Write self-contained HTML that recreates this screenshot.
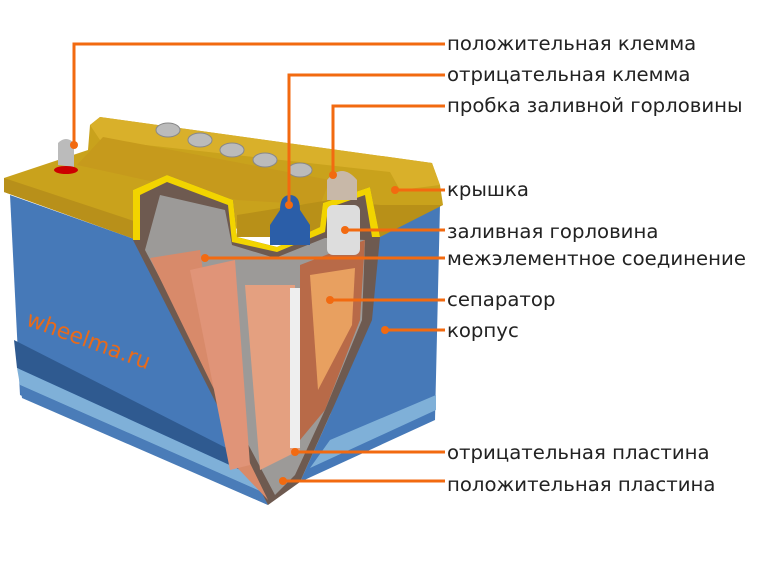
<!DOCTYPE html>
<html><head><meta charset="utf-8"><style>
html,body{margin:0;padding:0;background:#fff;width:768px;height:576px;overflow:hidden}
svg{display:block}
text{font-family:"DejaVu Sans","Liberation Sans",sans-serif;font-size:19.7px;fill:#222}
</style></head><body>
<svg width="768" height="576" viewBox="0 0 768 576">
<polygon points="10,195 137,240 268,505 20,395" fill="#4679b8"/>
<polygon points="14,340 250,460 258,478 17,368" fill="#2f5a90"/>
<polygon points="17,368 258,478 262,492 20,385" fill="#7fb0d8"/>
<polygon points="20,385 262,492 268,505 22,398" fill="#4a7cb8"/>
<polygon points="370,205 440,205 435,420 300,482 330,415 368,320" fill="#4679b8"/>
<polygon points="330,440 436,395 436,410 310,468" fill="#7fb0d8"/>
<polygon points="4,178 88,150 90,125 100,117 432,163 440,185 443,205 137,240 4,192" fill="#c9a21c"/>
<polygon points="90,125 100,117 432,163 440,185 400,190 390,172 100,140" fill="#d9b02a"/>
<polygon points="77,165 103,137 330,180 320,205 237,200" fill="#c69a1c"/>
<polygon points="4,178 137,222 137,240 4,192" fill="#b8901a"/>
<polygon points="237,215 330,200 380,205 443,205 380,237 237,237" fill="#b89018"/>
<polygon points="133,240 133,190 167,175 233,200 237,237 277,247 320,227 323,203 370,187 380,237 372,320 330,415 300,482 268,505" fill="#6e5a50"/>
<polygon points="133,190 167,175 233,200 237,237 277,247 320,227 323,203 370,187 380,237 372,237 365,195 328,208 325,232 277,252 232,242 228,205 167,182 140,195 140,240 133,240" fill="#f2d400"/>
<polygon points="145,250 160,195 225,210 232,245 275,258 325,238 365,240 362,320 325,410 295,475 275,495" fill="#9c9a98"/>
<polygon points="150,258 200,250 230,460 268,500" fill="#d88a6a"/>
<polygon points="190,270 235,260 250,465 230,470" fill="#e09478"/>
<polygon points="245,285 295,285 300,450 260,470" fill="#e4a080"/>
<polygon points="300,265 365,240 360,320 325,410 300,440" fill="#b86a48"/>
<polygon points="310,275 355,268 352,325 318,390" fill="#e8a060"/>
<rect x="290" y="288" width="10" height="160" fill="#eee"/>
<path d="M290,195 q10,0 10,15 l10,15 v20 h-40 v-20 l10,-15 q0,-15 10,-15 z" fill="#2b5ea8"/>
<rect x="327" y="205" width="33" height="50" rx="6" fill="#ddd"/>
<path d="M327,180 q15,-18 30,0 v20 h-30 z" fill="#c8b8a8"/>
<g fill="#bbb" stroke="#888">
<ellipse cx="168" cy="130" rx="12" ry="7"/><ellipse cx="200" cy="140" rx="12" ry="7"/><ellipse cx="232" cy="150" rx="12" ry="7"/><ellipse cx="265" cy="160" rx="12" ry="7"/><ellipse cx="300" cy="170" rx="12" ry="7"/>
</g>
<path d="M58,165 v-22 q8,-8 16,0 v24 z" fill="#bbb"/>
<ellipse cx="66" cy="170" rx="12" ry="4" fill="#c00"/>
<text x="25" y="325" transform="rotate(20 25 325)" style="fill:#e86a1a;font-size:22px">wheelma.ru</text>
<g stroke="#f26a10" stroke-width="3" fill="none">
<polyline points="74,145 74,44 445,44"/>
<polyline points="289,205 289,75 445,75"/>
<polyline points="333,175 333,106 445,106"/>
<polyline points="395,190 445,190"/>
<polyline points="345,230 445,230"/>
<polyline points="205,258 445,258"/>
<polyline points="330,300 445,300"/>
<polyline points="385,330 445,330"/>
<polyline points="295,452 445,452"/>
<polyline points="283,481 445,481"/>
</g>
<g fill="#f26a10">
<circle cx="74" cy="145" r="4"/><circle cx="289" cy="205" r="4"/><circle cx="333" cy="175" r="4"/><circle cx="395" cy="190" r="4"/><circle cx="345" cy="230" r="4"/><circle cx="205" cy="258" r="4"/><circle cx="330" cy="300" r="4"/><circle cx="385" cy="330" r="4"/><circle cx="295" cy="452" r="4"/><circle cx="283" cy="481" r="4"/>
</g>
<text x="447" y="50">положительная клемма</text>
<text x="447" y="81">отрицательная клемма</text>
<text x="447" y="112">пробка заливной горловины</text>
<text x="447" y="196">крышка</text>
<text x="447" y="238">заливная горловина</text>
<text x="447" y="265">межэлементное соединение</text>
<text x="447" y="306">сепаратор</text>
<text x="447" y="337">корпус</text>
<text x="447" y="459">отрицательная пластина</text>
<text x="447" y="491">положительная пластина</text>
</svg>
</body></html>
